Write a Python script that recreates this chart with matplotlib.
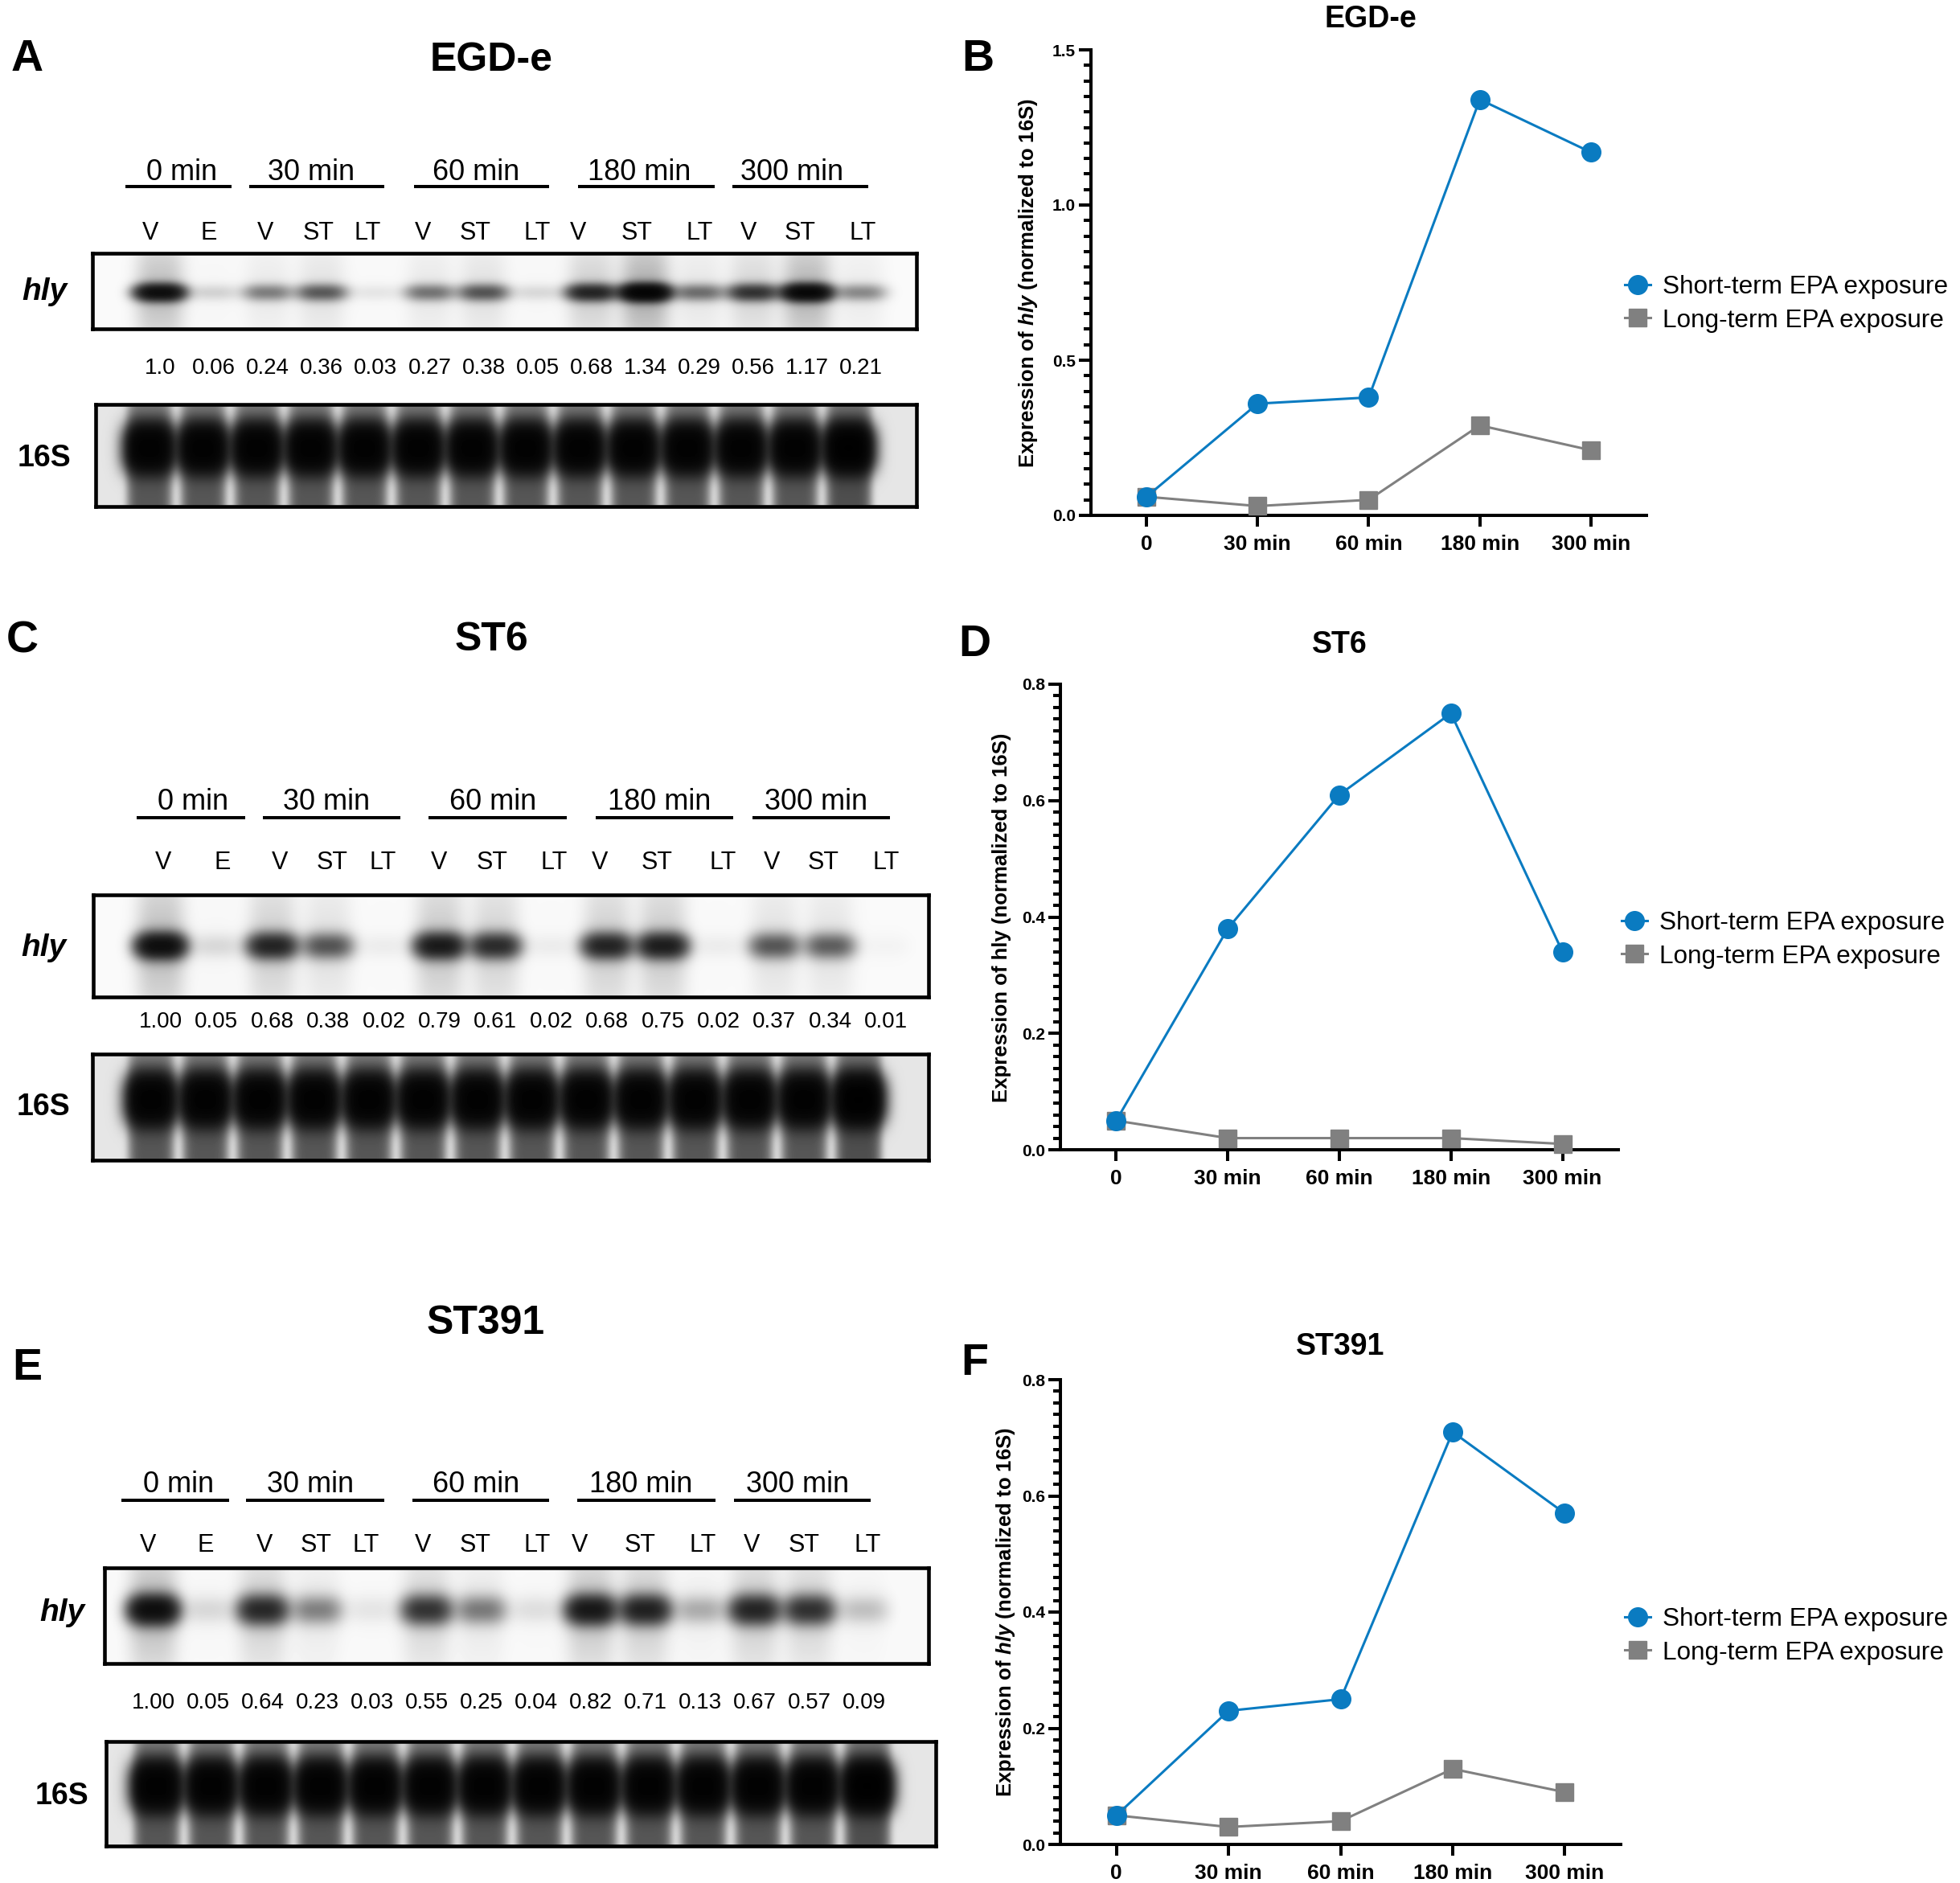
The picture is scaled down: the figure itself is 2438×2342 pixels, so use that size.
import numpy as np
import matplotlib
matplotlib.use("Agg")
import matplotlib.pyplot as plt
from matplotlib.ticker import MultipleLocator

plt.rcParams['font.family'] = ['Liberation Sans', 'DejaVu Sans']
plt.rcParams['mathtext.fontset'] = 'custom'
plt.rcParams['mathtext.rm'] = 'Liberation Sans'
plt.rcParams['mathtext.it'] = 'Liberation Sans:italic'
plt.rcParams['mathtext.bf'] = 'Liberation Sans:bold'
plt.rcParams['mathtext.bfit'] = 'Liberation Sans:bold:italic'

W, H = 2438, 2342

# lanes of every blot and the time groups above them
lanes = ["V", "E", "V", "ST", "LT", "V", "ST", "LT", "V", "ST", "LT", "V", "ST", "LT"]
groups = ["0 min", "30 min", "60 min", "180 min", "300 min"]
timepoints = ["0", "30 min", "60 min", "180 min", "300 min"]

# hly quantification printed under each blot
egd_hly = ["1.0", "0.06", "0.24", "0.36", "0.03", "0.27", "0.38", "0.05",
           "0.68", "1.34", "0.29", "0.56", "1.17", "0.21"]
st6_hly = ["1.00", "0.05", "0.68", "0.38", "0.02", "0.79", "0.61", "0.02",
           "0.68", "0.75", "0.02", "0.37", "0.34", "0.01"]
st391_hly = ["1.00", "0.05", "0.64", "0.23", "0.03", "0.55", "0.25", "0.04",
             "0.82", "0.71", "0.13", "0.67", "0.57", "0.09"]

# 16S loading control (all lanes look evenly saturated)
egd_16s = [1.0, 1.0, 1.0, 1.0, 1.0, 1.0, 1.0, 1.0, 1.0, 1.0, 1.0, 1.0, 1.0, 1.1]
st6_16s = [1.0, 1.0, 1.0, 1.0, 1.0, 1.0, 1.0, 1.0, 1.0, 1.0, 1.0, 1.0, 1.0, 1.1]
st391_16s = [1.0, 1.0, 1.0, 1.0, 1.0, 1.0, 1.0, 1.0, 1.0, 1.0, 1.0, 1.0, 1.0, 1.1]

# line graphs
egd_short = [0.06, 0.36, 0.38, 1.34, 1.17]
egd_long = [0.06, 0.03, 0.05, 0.29, 0.21]
st6_short = [0.05, 0.38, 0.61, 0.75, 0.34]
st6_long = [0.05, 0.02, 0.02, 0.02, 0.01]
st391_short = [0.05, 0.23, 0.25, 0.71, 0.57]
st391_long = [0.05, 0.03, 0.04, 0.13, 0.09]

BLUE = '#0a7bc1'
GRAY = '#808080'

fig = plt.figure(figsize=(W / 100, H / 100), dpi=100)
ov = fig.add_axes([0, 0, 1, 1])
ov.set_xlim(0, W)
ov.set_ylim(H, 0)
ov.axis('off')


def px_rect(x0, y0, x1, y1):
    return [x0 / W, 1 - y1 / H, (x1 - x0) / W, (y1 - y0) / H]


def blot_axes(box, dark):
    x0, y0, x1, y1 = box
    ax = fig.add_axes(px_rect(*box))
    ax.imshow(dark, cmap='gray_r', vmin=0, vmax=1, extent=(x0, x1, y1, y0),
              aspect='auto', interpolation='bilinear')
    ax.set_xticks([])
    ax.set_yticks([])
    for s in ax.spines.values():
        s.set_linewidth(3.3)
    return ax


def draw_hly(box, first, last, values, band_y, band_h):
    x0, y0, x1, y1 = box
    X, Y = np.meshgrid(np.arange(x0, x1) + 0.5, np.arange(y0, y1) + 0.5)
    cy = y0 + band_y * (y1 - y0)
    dens = np.zeros_like(X)
    for cx, v in zip(np.linspace(first, last, len(values)), values):
        gx = np.exp(-np.abs((X - cx) / 30.0) ** 3)
        gy = np.exp(-((Y - cy) / band_h) ** 2) + 0.10 * np.exp(-((Y - cy) / (0.7 * (y1 - y0))) ** 2)
        dens += v * gx * gy
    dark = 0.02 + 0.98 * (1 - np.exp(-2.6 * dens))
    blot_axes(box, dark)


def draw_16s(box, first, last, values):
    x0, y0, x1, y1 = box
    X, Y = np.meshgrid(np.arange(x0, x1) + 0.5, np.arange(y0, y1) + 0.5)
    hgt = y1 - y0
    sp = (last - first) / (len(values) - 1)
    core_y = y0 + 0.43 * hgt
    top_fade = 1 - 0.35 * np.exp(-((Y - y0) / (0.18 * hgt)) ** 2)
    dens = np.zeros_like(X)
    for cx, v in zip(np.linspace(first, last, len(values)), values):
        col = np.exp(-np.abs((X - cx) / (0.40 * sp)) ** 5) * top_fade
        core = (np.exp(-np.abs((X - cx) / (0.45 * sp)) ** 3)
                * np.exp(-np.abs((Y - core_y) / (0.23 * hgt)) ** 2.5))
        dens += v * (0.35 * col + 1.2 * core)
    dark = 0.10 + 0.90 * (1 - np.exp(-2.8 * dens))
    blot_axes(box, dark)


def blot_text(p):
    ov.text(p['letter_x'], p['letter_base'], p['letter'], fontsize=40, fontweight='bold',
            ha='center', va='baseline')
    ov.text(p['title_x'], p['title_base'], p['title'], fontsize=36,
            fontweight='bold', ha='center', va='baseline')
    for g, gx, (u0, u1) in zip(groups, p['group_x'], p['underlines']):
        ov.plot([u0, u1], [p['underline_y']] * 2, color='black', lw=2.9, solid_capstyle='butt')
        ov.text(gx, p['group_base'], g, fontsize=26, ha='center', va='baseline')
    for lab, lx in zip(lanes, p['lane_x']):
        ov.text(lx, p['lane_base'], lab, fontsize=22, ha='center', va='baseline')
    for lab, nx in zip(p['nums'], np.linspace(p['hly_first'], p['hly_last'], len(p['nums']))):
        ov.text(nx, p['num_base'], lab, fontsize=20, ha='center', va='baseline')
    ov.text(p['label_x'], p['hly_base'], 'hly', fontsize=28, fontweight='bold', style='italic',
            ha='center', va='baseline')
    ov.text(p['label_x'], p['s16_base'], '16S', fontsize=27, fontweight='bold',
            ha='center', va='baseline')


panels = [
    dict(letter='A', letter_x=34, letter_base=88, title='EGD-e', title_x=611, title_base=88,
         underlines=[(156, 288), (310, 478), (515, 683), (719, 889), (911, 1080)],
         group_x=[226, 387, 592, 795, 985],
         underline_y=232, group_base=224,
         lane_x=[187, 260, 330, 396, 457, 526, 591, 668, 719, 792, 870, 931, 995, 1073],
         lane_base=298, nums=egd_hly, num_base=465, label_x=55, hly_base=373, s16_base=580,
         hly_box=(115, 315, 1140, 409), hly_first=199, hly_last=1071, band_y=0.52, band_h=10,
         s16_box=(119, 503, 1140, 630), s16_first=186, s16_last=1056, s16=egd_16s),
    dict(letter='C', letter_x=28, letter_base=811, title='ST6', title_x=611, title_base=809,
         underlines=[(170, 305), (327, 498), (533, 705), (741, 912), (936, 1107)],
         group_x=[240, 406, 613, 820, 1015],
         underline_y=1017, group_base=1007,
         lane_x=[203, 277, 348, 413, 476, 546, 612, 689, 746, 817, 899, 960, 1024, 1102],
         lane_base=1081, nums=st6_hly, num_base=1278, label_x=54, hly_base=1189, s16_base=1387,
         hly_box=(116, 1113, 1155, 1240), hly_first=200, hly_last=1102, band_y=0.5, band_h=15,
         s16_box=(115, 1311, 1155, 1443), s16_first=188, s16_last=1068, s16=st6_16s),
    dict(letter='E', letter_x=34, letter_base=1716, title='ST391', title_x=604, title_base=1659,
         underlines=[(151, 285), (306, 478), (513, 683), (718, 890), (913, 1083)],
         group_x=[222, 386, 592, 797, 992],
         underline_y=1866, group_base=1856,
         lane_x=[184, 256, 329, 393, 455, 526, 591, 668, 721, 796, 874, 935, 1000, 1079],
         lane_base=1930, nums=st391_hly, num_base=2125, label_x=77, hly_base=2016, s16_base=2244,
         hly_box=(130, 1950, 1155, 2069), hly_first=191, hly_last=1075, band_y=0.44, band_h=17,
         s16_box=(132, 2166, 1164, 2296), s16_first=195, s16_last=1079, s16=st391_16s),
]

for p in panels:
    draw_hly(p['hly_box'], p['hly_first'], p['hly_last'], [float(v) for v in p['nums']],
             p['band_y'], p['band_h'])
    draw_16s(p['s16_box'], p['s16_first'], p['s16_last'], p['s16'])
    blot_text(p)


def draw_graph(box, short, long_, ymax, major, minor, letter, letter_xy, title, title_xy,
               ylab, ylab_xy, leg_xy):
    ax = fig.add_axes(px_rect(*box))
    ax.patch.set_alpha(0)
    x = np.arange(len(timepoints))
    hl, = ax.plot(x, long_, color=GRAY, lw=2.2, marker='s', ms=16, mec=GRAY,
                  label='Long-term EPA exposure', clip_on=False, zorder=3)
    hs, = ax.plot(x, short, color=BLUE, lw=2.2, marker='o', ms=17, mec=BLUE,
                  label='Short-term EPA exposure', clip_on=False, zorder=4)
    ax.set_xlim(-0.5, 4.5)
    ax.set_ylim(0, ymax)
    yt = np.arange(0, ymax + 1e-9, major)
    ax.set_yticks(yt, [f'{t:.1f}' for t in yt])
    ax.yaxis.set_minor_locator(MultipleLocator(minor))
    ax.set_xticks(x, timepoints)
    ax.spines['top'].set_visible(False)
    ax.spines['right'].set_visible(False)
    ax.spines['left'].set_linewidth(2.9)
    ax.spines['bottom'].set_linewidth(2.9)
    ax.tick_params(axis='y', which='major', length=10.8, width=2.9, pad=3, labelsize=15)
    ax.tick_params(axis='y', which='minor', length=6.5, width=2.9)
    ax.tick_params(axis='x', which='both', length=10, width=2.9, pad=7, labelsize=19)
    for lab in ax.get_xticklabels() + ax.get_yticklabels():
        lab.set_fontweight('bold')
    ax.legend(handles=[hs, hl], loc='center left',
              bbox_to_anchor=(leg_xy[0] / W, 1 - leg_xy[1] / H), bbox_transform=fig.transFigure,
              frameon=False, fontsize=22.7, handlelength=1.0, handletextpad=0.5,
              labelspacing=0.35, borderpad=0, borderaxespad=0)
    ov.text(letter_xy[0], letter_xy[1], letter, fontsize=40, fontweight='bold',
            ha='center', va='baseline')
    ov.text(title_xy[0], title_xy[1], title, fontsize=27, fontweight='bold',
            ha='center', va='baseline')
    ov.text(ylab_xy[0], ylab_xy[1], ylab, fontsize=18.5, fontweight='bold', rotation=90,
            ha='center', va='center')


ylab_it = r'Expression of $\mathbfit{hly}$ (normalized to 16S)'
draw_graph((1357, 62, 2048, 641), egd_short, egd_long, 1.5, 0.5, 0.05, 'B', (1216, 88),
           'EGD-e', (1705, 34), ylab_it, (1279, 352), (2021, 378))
draw_graph((1319, 851, 2013, 1430), st6_short, st6_long, 0.8, 0.2, 0.02, 'D', (1212, 816),
           'ST6', (1666, 812), 'Expression of hly (normalized to 16S)', (1246, 1141), (2017, 1169))
draw_graph((1319, 1716, 2016, 2294), st391_short, st391_long, 0.8, 0.2, 0.02, 'F', (1212, 1710),
           'ST391', (1667, 1685), ylab_it, (1251, 2005), (2021, 2035))

fig.savefig('out.png', dpi=100)
